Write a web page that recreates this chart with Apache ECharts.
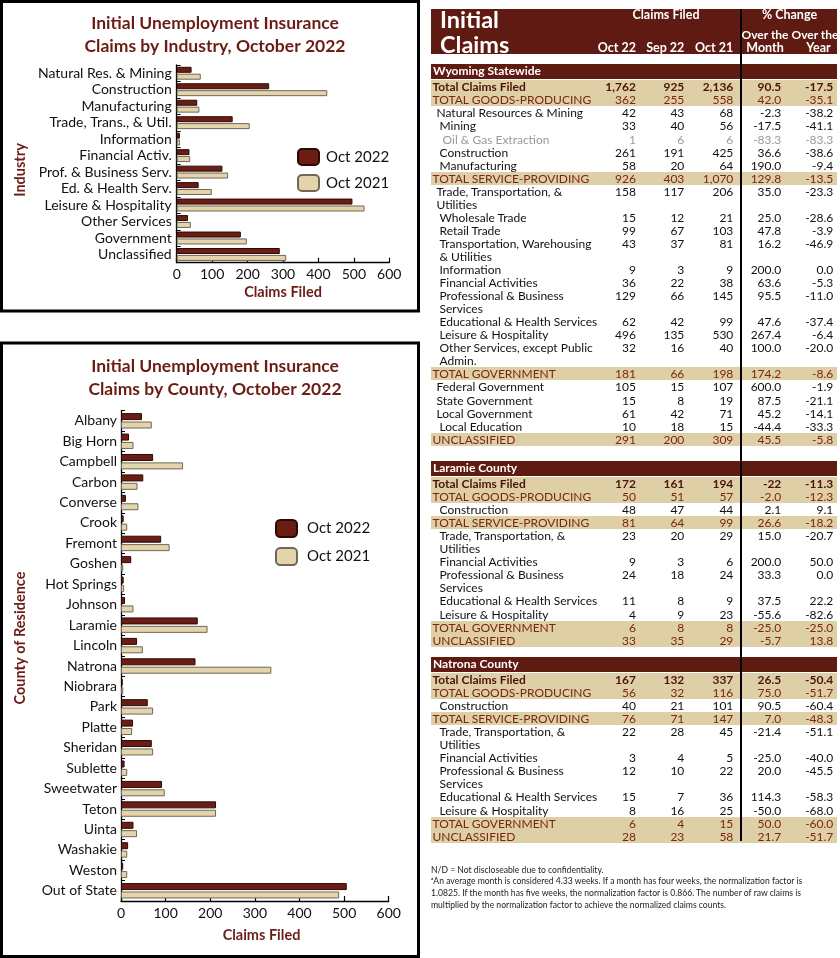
<!DOCTYPE html>
<html>
<head>
<meta charset="utf-8">
<script src="https://cdn.jsdelivr.net/npm/echarts@6/dist/echarts.min.js"></script>
<style>
html,body{margin:0;padding:0;background:#fff;}
body{width:840px;height:958px;position:relative;overflow:hidden;font-family:Lato,"Open Sans",sans-serif;}
#chart{position:absolute;left:0;top:0;width:425px;height:958px;}
#tbl{position:absolute;left:0;top:0;width:840px;height:958px;}
.abs{position:absolute;white-space:pre;}
.hdr{position:absolute;left:431px;width:406px;background:#5f1a12;}
.sec{position:absolute;left:431px;width:406px;height:14.5px;background:#5f1a12;color:#fff;font-weight:bold;font-size:12px;line-height:14.5px;}
.row{position:absolute;left:431px;width:406px;font-size:12px;line-height:13.05px;color:#111;}
.row.total{background:#dfcfa6;color:#7a2614;}
.row.grand{background:#dfcfa6;color:#4a140b;font-weight:bold;}
.row.muted{color:#9a9a9a;}
.num{position:absolute;top:0;text-align:right;white-space:nowrap;}
.lbl{position:absolute;top:0;white-space:pre;}
.foot{position:absolute;left:431px;font-size:8.6px;line-height:11.8px;color:#222;white-space:nowrap;}
.h{position:absolute;white-space:pre;font-size:12.5px;font-weight:bold;color:#fff;line-height:16px;}
</style>
</head>
<body>
<div id="chart"></div>
<div id="tbl"></div>
<script>
// ---------- Chart data ----------
const industries = ['Natural Res. & Mining','Construction','Manufacturing','Trade, Trans., & Util.','Information','Financial Activ.','Prof. & Business Serv.','Ed. & Health Serv.','Leisure & Hospitality','Other Services','Government','Unclassified'];
const industryOct2022 = [42,261,58,158,9,36,129,62,496,32,181,291];
const industryOct2021 = [68,425,64,206,9,38,145,99,530,40,198,309];

const counties = ['Albany','Big Horn','Campbell','Carbon','Converse','Crook','Fremont','Goshen','Hot Springs','Johnson','Laramie','Lincoln','Natrona','Niobrara','Park','Platte','Sheridan','Sublette','Sweetwater','Teton','Uinta','Washakie','Weston','Out of State'];
const countyOct2022 = [47,18,72,50,11,6,90,23,6,9,172,36,167,4,60,27,69,8,92,213,28,16,5,506];
const countyOct2021 = [69,28,139,37,39,14,109,5,7,28,194,49,337,5,72,25,72,14,98,213,36,14,14,489];

const seriesNames = ['Oct 2022','Oct 2021'];
const xTicks = [0,600,100]; // min, max, interval

// ---------- Table data ----------
const tableColumns = ['Oct 22','Sep 22','Oct 21'];
// [label, Oct22, Sep22, Oct21, OverMonth, OverYear, kind, level]
const statewideRows = [
 ['Total Claims Filed','1,762','925','2,136','90.5','-17.5','grand',0],
 ['TOTAL GOODS-PRODUCING','362','255','558','42.0','-35.1','total',0],
 ['Natural Resources & Mining','42','43','68','-2.3','-38.2','',1],
 ['Mining','33','40','56','-17.5','-41.1','',2],
 ['Oil & Gas Extraction','1','6','6','-83.3','-83.3','muted',3],
 ['Construction','261','191','425','36.6','-38.6','',2],
 ['Manufacturing','58','20','64','190.0','-9.4','',2],
 ['TOTAL SERVICE-PROVIDING','926','403','1,070','129.8','-13.5','total',0],
 ['Trade, Transportation, &\nUtilities','158','117','206','35.0','-23.3','',1],
 ['Wholesale Trade','15','12','21','25.0','-28.6','',2],
 ['Retail Trade','99','67','103','47.8','-3.9','',2],
 ['Transportation, Warehousing\n& Utilities','43','37','81','16.2','-46.9','',2],
 ['Information','9','3','9','200.0','0.0','',2],
 ['Financial Activities','36','22','38','63.6','-5.3','',2],
 ['Professional & Business\nServices','129','66','145','95.5','-11.0','',2],
 ['Educational & Health Services','62','42','99','47.6','-37.4','',2],
 ['Leisure & Hospitality','496','135','530','267.4','-6.4','',2],
 ['Other Services, except Public\nAdmin.','32','16','40','100.0','-20.0','',2],
 ['TOTAL GOVERNMENT','181','66','198','174.2','-8.6','total',0],
 ['Federal Government','105','15','107','600.0','-1.9','',1],
 ['State Government','15','8','19','87.5','-21.1','',1],
 ['Local Government','61','42','71','45.2','-14.1','',1],
 ['Local Education','10','18','15','-44.4','-33.3','',2],
 ['UNCLASSIFIED','291','200','309','45.5','-5.8','total',0]
];
const laramieRows = [
 ['Total Claims Filed','172','161','194','-22','-11.3','grand',0],
 ['TOTAL GOODS-PRODUCING','50','51','57','-2.0','-12.3','total',0],
 ['Construction','48','47','44','2.1','9.1','',2],
 ['TOTAL SERVICE-PROVIDING','81','64','99','26.6','-18.2','total',0],
 ['Trade, Transportation, &\nUtilities','23','20','29','15.0','-20.7','',2],
 ['Financial Activities','9','3','6','200.0','50.0','',2],
 ['Professional & Business\nServices','24','18','24','33.3','0.0','',2],
 ['Educational & Health Services','11','8','9','37.5','22.2','',2],
 ['Leisure & Hospitality','4','9','23','-55.6','-82.6','',2],
 ['TOTAL GOVERNMENT','6','8','8','-25.0','-25.0','total',0],
 ['UNCLASSIFIED','33','35','29','-5.7','13.8','total',0]
];
const natronaRows = [
 ['Total Claims Filed','167','132','337','26.5','-50.4','grand',0],
 ['TOTAL GOODS-PRODUCING','56','32','116','75.0','-51.7','total',0],
 ['Construction','40','21','101','90.5','-60.4','',2],
 ['TOTAL SERVICE-PROVIDING','76','71','147','7.0','-48.3','total',0],
 ['Trade, Transportation, &\nUtilities','22','28','45','-21.4','-51.1','',2],
 ['Financial Activities','3','4','5','-25.0','-40.0','',2],
 ['Professional & Business\nServices','12','10','22','20.0','-45.5','',2],
 ['Educational & Health Services','15','7','36','114.3','-58.3','',2],
 ['Leisure & Hospitality','8','16','25','-50.0','-68.0','',2],
 ['TOTAL GOVERNMENT','6','4','15','50.0','-60.0','total',0],
 ['UNCLASSIFIED','28','23','58','21.7','-51.7','total',0]
];
const sectionTitles = ['Wyoming Statewide','Laramie County','Natrona County'];
const footnotes = [
 'N/D = Not discloseable due to confidentiality.',
 '\u1D43An average month is considered 4.33 weeks. If a month has four weeks, the normalization factor is',
 '1.0825. If the month has five weeks, the normalization factor is 0.866. The number of raw claims is',
 'multiplied by the normalization factor to achieve the normalized claims counts.'
];

// ---------- Build table (HTML) ----------
(function(){
  const T = document.getElementById('tbl');
  const LH = 13.05;
  const colRight = [205, 253.3, 302.3, 350.3, 402.3]; // right edges relative to table left
  const indents = [1.5, 5.5, 8.5, 11.6];
  function el(cls, css, text){ const d=document.createElement('div'); d.className=cls; d.style.cssText=css; if(text!==undefined) d.textContent=text; return d; }
  // Header band
  T.appendChild(el('hdr','top:9.3px;height:45px;'));
  T.appendChild(el('abs','left:440px;top:6px;font-size:23.5px;font-weight:bold;color:#fff;line-height:26px;','Initial'));
  T.appendChild(el('abs','left:440px;top:31px;font-size:23.5px;font-weight:bold;color:#fff;line-height:26px;','Claims'));
  T.appendChild(el('h','left:606px;width:120px;text-align:center;top:7px;','Claims Filed'));
  T.appendChild(el('h','left:742px;width:95px;text-align:center;top:7px;','% Change'));
  T.appendChild(el('h','left:740px;width:100px;text-align:center;top:27px;font-size:12px;','Over the Over the'));
  T.appendChild(el('h','left:742px;width:46px;text-align:center;top:40px;','Month'));
  T.appendChild(el('h','left:795px;width:47px;text-align:center;top:40px;','Year'));
  tableColumns.forEach((c,i)=>{
    T.appendChild(el('h',`right:${840-(431+colRight[i])}px;top:40px;`,c));
  });
  const sections = [[statewideRows,64.3],[laramieRows,461],[natronaRows,657]];
  sections.forEach(([rows,top],si)=>{
    const s = el('sec',`top:${top}px;`); 
    const t = el('lbl','left:2px;',sectionTitles[si]); s.appendChild(t);
    T.appendChild(s);
    let y = top + 14.5 + 1.5;
    rows.forEach(r=>{
      const lines = r[0].split('\n').length;
      const h = lines*LH;
      const d = el('row '+r[6], `top:${y}px;height:${h}px;`);
      d.appendChild(el('lbl',`left:${indents[r[7]]}px;`, r[0]));
      for(let k=0;k<5;k++){
        d.appendChild(el('num',`right:${406-colRight[k]}px;`, r[k+1]));
      }
      T.appendChild(d);
      y += h;
    });
  });
  // vertical divider
  T.appendChild(el('abs','left:739.5px;top:9.3px;width:2px;height:832px;background:#000;'));
  // footnotes
  const fy = [864.5, 876, 888, 900];
  footnotes.forEach((f,i)=>{ T.appendChild(el('foot',`top:${fy[i]}px;`, f)); });
})();

// ---------- Charts (ECharts) ----------
const chart = echarts.init(document.getElementById('chart'), null, {renderer:'canvas'});
const FONT = 'Lato';
const DARK = '#6b1d14';
const BEIGE = '#e4d4ab';
const textDark = '#111';
function xAxisCfg(gi){
  return {gridIndex:gi,type:'value',min:xTicks[0],max:xTicks[1],interval:xTicks[2],
    axisLine:{show:true,lineStyle:{color:'#000',width:1.3}},
    axisTick:{show:true,inside:true,length:5,lineStyle:{color:'#000',width:1.2}},
    axisLabel:{fontFamily:FONT,fontSize:14,color:textDark,margin:5},
    splitLine:{show:false}};
}
function yAxisCfg(gi,data,fs,margin){
  return {gridIndex:gi,type:'category',data:data,inverse:true,
    axisLine:{show:true,lineStyle:{color:'#000',width:1.3}},
    axisTick:{show:true,inside:true,length:4,interval:0,lineStyle:{color:'#000'}},
    axisLabel:{fontFamily:FONT,fontSize:fs,color:textDark,margin:margin,interval:0}};
}
function bar(name,gi,data,w,gap,color,border){
  return {type:'bar',name:name,xAxisIndex:gi,yAxisIndex:gi,data:data,barWidth:w,barGap:gap,
    itemStyle:{color:color,borderColor:border,borderWidth:1}};
}
const titleStyle = {fontFamily:FONT,fontSize:17.5,fontWeight:'bold',color:DARK,lineHeight:23};
const axisNameStyle = {fontFamily:FONT,fontSize:14.5,fontWeight:'bold',fill:DARK};
const option = {
  animation:false,
  title:[
    {text:'Initial Unemployment Insurance\nClaims by Industry, October 2022',left:210,top:6.5,textAlign:'center',textStyle:titleStyle},
    {text:'Initial Unemployment Insurance\nClaims by County, October 2022',left:210,top:350,textAlign:'center',textStyle:titleStyle}
  ],
  legend:[
    {data:seriesNames,orient:'vertical',left:297,top:148,padding:0,itemWidth:21,itemHeight:16,itemGap:8,
      textStyle:{fontFamily:FONT,fontSize:15,color:textDark,padding:[0,0,0,2]}},
    {data:seriesNames,orient:'vertical',left:275,top:519,padding:0,itemWidth:21,itemHeight:17,itemGap:9,
      textStyle:{fontFamily:FONT,fontSize:15,color:textDark,padding:[0,0,0,5]}}
  ],
  grid:[
    {left:176.7,top:65,width:212.6,height:197.7,containLabel:false},
    {left:121,top:410.6,width:267.7,height:490.4,containLabel:false}
  ],
  xAxis:[xAxisCfg(0),xAxisCfg(1)],
  yAxis:[yAxisCfg(0,industries,14,5),yAxisCfg(1,counties,14,4)],
  series:[
    bar(seriesNames[0],0,industryOct2022,6,'15%',DARK,'#2b0a06'),
    bar(seriesNames[1],0,industryOct2021,6,'15%',BEIGE,'#6f6757'),
    bar(seriesNames[0],1,countyOct2022,7,'20%',DARK,'#2b0a06'),
    bar(seriesNames[1],1,countyOct2021,7,'20%',BEIGE,'#6f6757')
  ],
  graphic:[
    {type:'rect',shape:{x:1.5,y:1.5,width:417,height:309.5},style:{fill:'none',stroke:'#000',lineWidth:3},silent:true},
    {type:'rect',shape:{x:1.5,y:343,width:417,height:613.5},style:{fill:'none',stroke:'#000',lineWidth:3},silent:true},
    {type:'text',x:283,y:292.5,style:Object.assign({text:'Claims Filed',align:'center',verticalAlign:'middle'},axisNameStyle)},
    {type:'text',x:261.5,y:935,style:Object.assign({text:'Claims Filed',align:'center',verticalAlign:'middle'},axisNameStyle)},
    {type:'text',x:20,y:170,rotation:Math.PI/2,style:Object.assign({text:'Industry',align:'center',verticalAlign:'middle'},axisNameStyle)},
    {type:'text',x:20,y:638,rotation:Math.PI/2,style:Object.assign({text:'County of Residence',align:'center',verticalAlign:'middle'},axisNameStyle)}
  ]
};
chart.setOption(option);
</script>
</body>
</html>
